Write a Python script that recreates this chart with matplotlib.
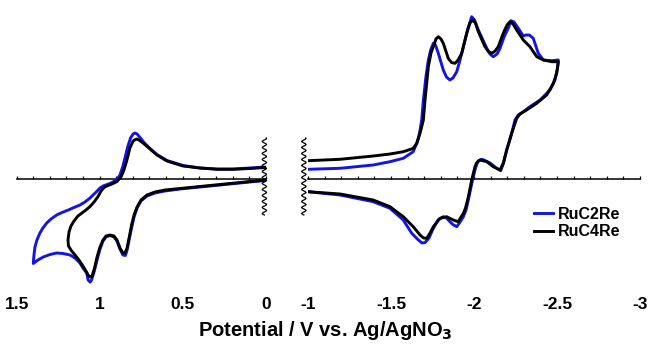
import numpy as np
import matplotlib.pyplot as plt

plt.rcParams['font.family'] = ['Liberation Sans', 'DejaVu Sans']
plt.rcParams['font.weight'] = 'bold'

# ---- data: potential (V vs Ag/AgNO3), current (arb. units) ----
# oxidation window (left panel)
ox_v_c2 = [0.0, 0.095, 0.215, 0.396, 0.516, 0.607, 0.667, 0.715, 0.751, 0.775, 0.793, 0.808, 0.823, 0.835,
           0.845, 0.860, 0.878, 0.896, 0.914, 0.938, 0.962, 0.980, 0.998, 1.016, 1.034, 1.049, 1.058, 1.070,
           1.078, 1.101, 1.119, 1.149, 1.179, 1.221, 1.259, 1.299, 1.340, 1.372, 1.400,
           1.396, 1.390, 1.378, 1.360, 1.342, 1.319, 1.293, 1.259, 1.227, 1.189, 1.155, 1.119, 1.089, 1.058,
           1.037, 1.018, 0.998, 0.980, 0.938, 0.898, 0.878, 0.860, 0.845, 0.830, 0.814, 0.799, 0.787, 0.775,
           0.757, 0.733, 0.697, 0.655, 0.595, 0.498, 0.396, 0.293, 0.197, 0.095, 0.0]
ox_i_c2 = [-0.15, -0.3, -0.5, -0.8, -1.0, -1.2, -1.4, -1.7, -2.2, -2.9, -3.8, -4.9, -6.1, -7.1,
           -7.65, -7.6, -7.0, -6.2, -5.8, -5.65, -5.8, -6.2, -7.0, -8.1, -9.3, -10.1, -10.3, -10.1,
           -9.4, -8.9, -8.4, -7.9, -7.6, -7.45, -7.4, -7.55, -7.8, -8.1, -8.45,
           -7.6, -6.8, -6.1, -5.4, -4.9, -4.4, -4.0, -3.6, -3.35, -3.1, -2.85, -2.6, -2.3, -1.9,
           -1.55, -1.25, -0.9, -0.7, -0.45, -0.1, 0.4, 1.3, 2.3, 3.3, 4.1, 4.5, 4.6, 4.5,
           4.15, 3.65, 3.05, 2.45, 1.85, 1.35, 1.1, 1.0, 1.0, 1.1, 1.2]

ox_v_c4 = [0.0, 0.095, 0.215, 0.396, 0.516, 0.607, 0.667, 0.715, 0.751, 0.775, 0.793, 0.808, 0.823, 0.835,
           0.848, 0.860, 0.878, 0.896, 0.914, 0.938, 0.962, 0.980, 0.998, 1.016, 1.031, 1.046, 1.058, 1.070,
           1.083, 1.101, 1.125, 1.149, 1.173, 1.188,
           1.191, 1.185, 1.173, 1.155, 1.131, 1.107, 1.083, 1.058, 1.034, 1.010, 0.992, 0.974, 0.950, 0.926,
           0.896, 0.872, 0.854, 0.836, 0.818, 0.799, 0.778, 0.763, 0.739, 0.697, 0.655, 0.595, 0.498, 0.396,
           0.293, 0.197, 0.095, 0.0]
ox_i_c4 = [-0.1, -0.25, -0.45, -0.75, -0.95, -1.1, -1.3, -1.6, -2.1, -2.8, -3.6, -4.6, -5.9, -6.9,
           -7.4, -7.4, -6.9, -6.1, -5.7, -5.6, -5.7, -6.1, -6.8, -7.8, -8.9, -9.7, -9.8, -9.6,
           -9.2, -8.7, -8.1, -7.6, -7.1, -6.7,
           -6.1, -5.3, -4.7, -4.2, -3.7, -3.4, -3.1, -2.75, -2.3, -1.75, -1.2, -0.85, -0.65, -0.5,
           -0.25, 0.2, 0.9, 1.9, 3.1, 3.8, 4.0, 3.9, 3.6, 3.0, 2.4, 1.8, 1.3, 1.1,
           0.97, 0.97, 1.05, 1.15]

# reduction window (right panel)
red_v_c2 = [-1.0, -1.193, -1.393, -1.494, -1.574, -1.634, -1.655, -1.665, -1.675, -1.685, -1.695, -1.711,
            -1.725, -1.739, -1.755, -1.768, -1.785, -1.815, -1.834, -1.855, -1.873, -1.896, -1.916, -1.936,
            -1.964, -1.986, -2.003, -2.026, -2.077, -2.096, -2.116, -2.139, -2.157, -2.181, -2.207, -2.223,
            -2.241, -2.267, -2.297, -2.313, -2.333, -2.357, -2.387, -2.418, -2.468, -2.508,
            -2.503, -2.488, -2.458, -2.398, -2.337, -2.297, -2.267, -2.247, -2.227, -2.197, -2.178, -2.161,
            -2.137, -2.096, -2.060, -2.046, -2.024, -2.009, -1.991, -1.970, -1.952, -1.936, -1.916, -1.896,
            -1.873, -1.855, -1.834, -1.815, -1.783, -1.753, -1.729, -1.705, -1.687, -1.665, -1.625, -1.574,
            -1.494, -1.393, -1.193, -1.0]
red_i_c2 = [0.97, 1.07, 1.4, 1.73, 2.07, 2.73, 3.57, 4.1, 4.9, 5.9, 7.9, 10.3,
            11.9, 12.9, 13.57, 13.4, 12.57, 10.9, 10.2, 9.9, 10.1, 10.73, 11.9, 13.23,
            15.1, 16.23, 15.9, 14.9, 13.07, 12.5, 12.23, 12.5, 13.07, 14.2, 15.1, 15.83,
            15.7, 15.07, 14.3, 14.4, 14.4, 14.07, 12.57, 11.9, 11.83, 11.9,
            11.1, 9.9, 8.9, 7.9, 7.23, 6.73, 6.4, 5.9, 4.57, 2.9, 1.6, 0.83,
            1.07, 1.6, 1.9, 1.97, 1.8, 1.1, -0.1, -1.77, -3.1, -3.77, -4.3, -4.77,
            -4.55, -4.27, -3.9, -3.77, -4.1, -5.0, -5.9, -6.35, -6.4, -6.1, -5.43, -4.1,
            -2.93, -2.27, -1.6, -1.27]

red_v_c4 = [-1.0, -1.193, -1.393, -1.494, -1.574, -1.614, -1.634, -1.655, -1.675, -1.695, -1.705, -1.725,
            -1.741, -1.755, -1.771, -1.785, -1.801, -1.815, -1.845, -1.864, -1.886, -1.904, -1.926, -1.956,
            -1.976, -1.992, -2.009, -2.026, -2.066, -2.087, -2.107, -2.127, -2.146, -2.176, -2.199, -2.217,
            -2.235, -2.257, -2.297, -2.337, -2.378, -2.418, -2.468, -2.508,
            -2.503, -2.498, -2.478, -2.438, -2.378, -2.317, -2.277, -2.257, -2.227, -2.197, -2.176, -2.157,
            -2.116, -2.077, -2.036, -2.015, -2.006, -1.986, -1.966, -1.949, -1.936, -1.905, -1.875, -1.835,
            -1.795, -1.755, -1.732, -1.715, -1.696, -1.675, -1.634, -1.574, -1.494, -1.393, -1.193, -1.0]
red_i_c4 = [1.83, 1.97, 2.3, 2.5, 2.73, 2.95, 3.07, 3.57, 4.57, 5.9, 7.9, 11.23,
            12.6, 13.23, 14.0, 14.23, 14.0, 13.57, 12.07, 11.65, 11.57, 11.9, 12.57, 14.57,
            15.6, 15.9, 15.6, 14.73, 13.23, 12.75, 12.57, 12.8, 13.23, 14.57, 15.4, 15.73,
            15.5, 14.9, 13.9, 13.23, 12.23, 11.9, 11.73, 11.73,
            11.1, 10.57, 9.57, 8.4, 7.57, 6.9, 6.5, 6.07, 4.57, 2.9, 1.57, 0.9,
            1.23, 1.73, 1.9, 1.6, 1.23, -0.1, -1.77, -2.9, -3.43, -4.27, -4.1, -3.77,
            -3.93, -4.77, -5.5, -5.93, -5.9, -5.6, -4.77, -3.77, -2.77, -2.1, -1.5, -1.27]

left_ticks = [1.5, 1, 0.5, 0]
left_labels = ['1.5', '1', '0.5', '0']
right_ticks = [-1, -1.5, -2, -2.5, -3]
right_labels = ['-1', '-1.5', '-2', '-2.5', '-3']

blue = '#1414e6'
W, H = 649, 347
fig = plt.figure(figsize=(W / 100, H / 100), dpi=100)
ylim = (-11.1, 16.9)
ax1 = fig.add_axes([16.7 / W, 1 - 290 / H, 249 / W, 280 / H])
ax2 = fig.add_axes([308 / W, 1 - 290 / H, 332 / W, 280 / H])


def style(ax, lo, hi, ticks, labels):
    ax.set_xlim(lo, hi)
    ax.set_ylim(*ylim)
    for s in ax.spines.values():
        s.set_visible(False)
    ax.set_yticks([])
    ax.set_xticks(ticks)
    ax.set_xticklabels(labels, fontsize=12.5, fontweight='bold')
    ax.tick_params(axis='x', length=0, pad=5)
    ax.patch.set_alpha(0)
    # zero line with small upward ticks every 0.1 V
    ax.plot([lo, hi], [0, 0], color='black', lw=1.1, clip_on=False, zorder=1)
    minor = np.arange(min(lo, hi), max(lo, hi) + 1e-6, 0.1)
    ax.vlines(minor, 0, 0.35, color='black', lw=0.9, clip_on=False, zorder=1)


def wavy(ax, x0):
    yy = np.linspace(-3.6, 4.1, 300)
    xx = x0 + 0.013 * np.sin(yy / 0.6 * 2 * np.pi)
    ax.plot(xx, yy, color='black', lw=0.9, clip_on=False, zorder=5)


style(ax1, 1.5, 0.0, left_ticks, left_labels)
style(ax2, -1.0, -3.0, right_ticks, right_labels)

ax1.plot(ox_v_c2, ox_i_c2, color=blue, lw=2.1, zorder=3)
ax1.plot(ox_v_c4, ox_i_c4, color='black', lw=2.1, zorder=4)
ax2.plot(red_v_c2, red_i_c2, color=blue, lw=2.1, zorder=3, label='RuC2Re')
ax2.plot(red_v_c4, red_i_c4, color='black', lw=2.1, zorder=4, label='RuC4Re')

wavy(ax1, 0.008)
wavy(ax2, -0.975)

ax2.legend(loc='upper left', bbox_to_anchor=(226 / 332, 1 - (207 - 10) / 280), frameon=False,
           prop={'size': 11.5, 'weight': 'bold'}, handlelength=1.2, handletextpad=0.3,
           labelspacing=0.15, borderpad=0, borderaxespad=0)

fig.text(325 / W, 1 - 331 / H, 'Potential / V vs. Ag/AgNO$_\\mathbf{3}$', ha='center', va='center',
         fontsize=14.5, fontweight='bold')

fig.savefig('out.png', dpi=100)
